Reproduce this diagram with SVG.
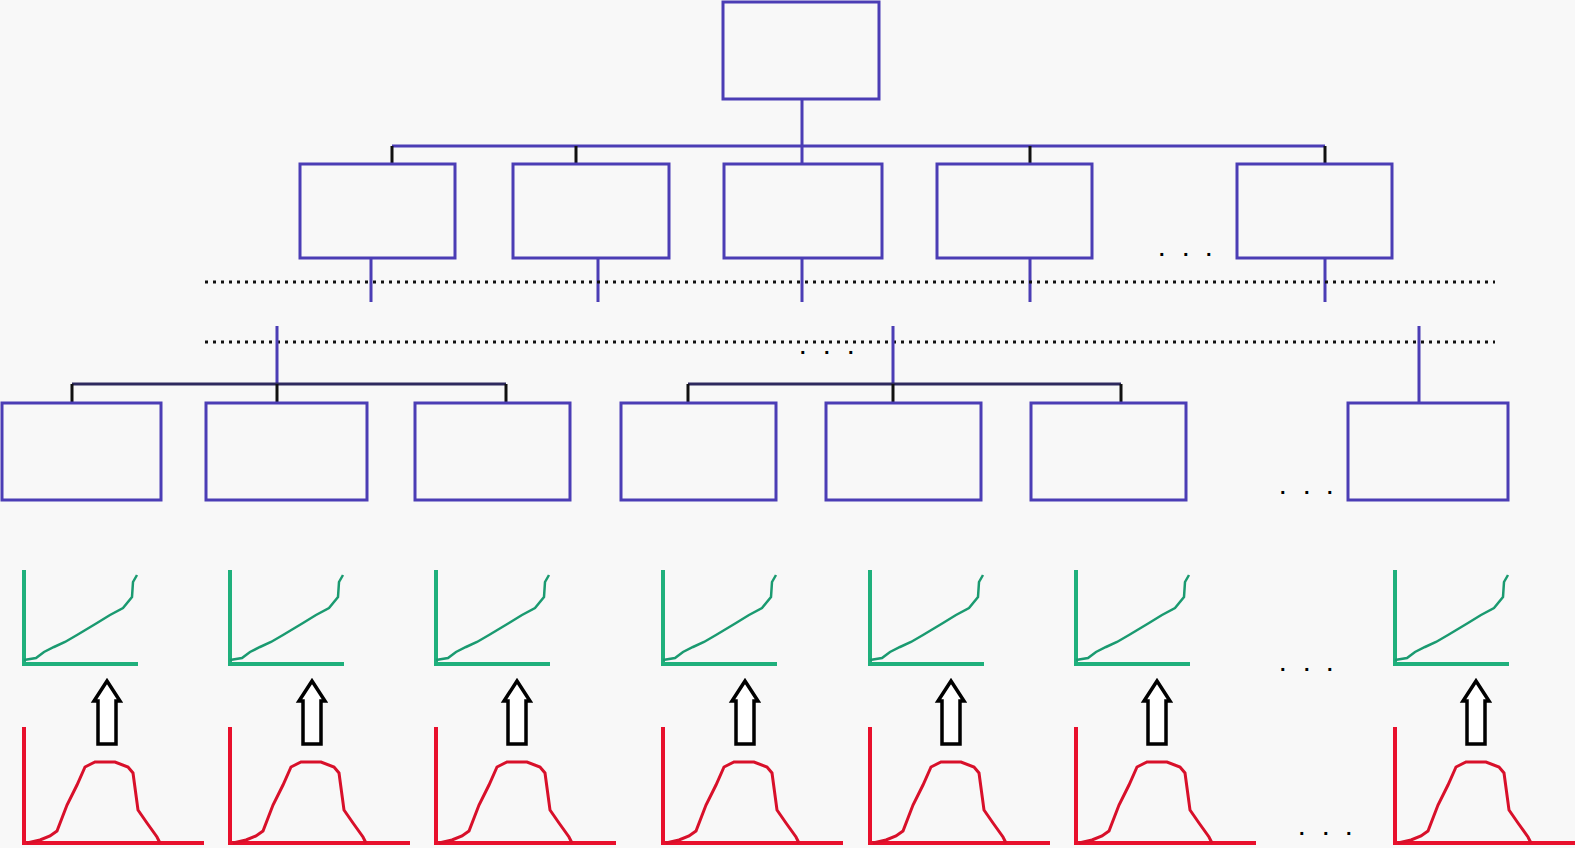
<svg xmlns="http://www.w3.org/2000/svg" width="1575" height="848" viewBox="0 0 1575 848">
<style>
.box{fill:none;stroke:#4b3db5;stroke-width:3}
.blue{stroke:#4b3db5;stroke-width:3;fill:none}
.blk{stroke:#111;stroke-width:3;fill:none}
.bus3{stroke:#2e2a5e;stroke-width:3;fill:none}
.dot{stroke:#111;stroke-width:3;stroke-dasharray:3 5;fill:none}
.gax{stroke:#1fb07c;stroke-width:4;fill:none}
.gcv{stroke:#1a9a70;stroke-width:2.5;fill:none}
.rax{stroke:#e8102c;stroke-width:4;fill:none}
.rcv{stroke:#d8102a;stroke-width:3;fill:none}
.arr{fill:#fff;stroke:#000;stroke-width:3.5;stroke-linejoin:miter}
.el{font-family:"Liberation Sans",Arial,sans-serif;font-size:20px;font-weight:bold;fill:#000}
</style>
<defs>
<g id="gchart">
<path class="gax" d="M0,-94 V0 H114"/>
<polyline class="gcv" points="0,-4 12,-6 20,-12 30,-17 41,-22 53,-29 73,-41 86,-49 99,-56 108,-67 109,-82 113,-89"/>
</g>
<g id="rchart">
<path class="rax" d="M0,-116 V0 H180"/>
<polyline class="rcv" points="3,0 16,-3 26,-7 33,-12 43,-38 53,-58 61,-76 71,-81 91,-81 104,-76 109,-70 114,-33 123,-20 133,-6 136,0"/>
</g>
<polygon id="uparrow" class="arr" points="0,0 13,20 9,20 9,63 -9,63 -9,20 -13,20"/>
</defs>
<rect width="1575" height="848" fill="#f8f8f8"/>

<g id="connectors">
<line class="blue" x1="802" y1="99" x2="802" y2="146"/>
<line class="blue" x1="392" y1="146" x2="1325" y2="146"/>
<line class="blk" x1="392" y1="146" x2="392" y2="164"/>
<line class="blk" x1="576" y1="146" x2="576" y2="164"/>
<line class="blue" x1="802" y1="146" x2="802" y2="164"/>
<line class="blk" x1="1030" y1="146" x2="1030" y2="164"/>
<line class="blk" x1="1325" y1="146" x2="1325" y2="164"/>
<line class="blue" x1="371" y1="258" x2="371" y2="302"/>
<line class="blue" x1="598" y1="258" x2="598" y2="302"/>
<line class="blue" x1="802" y1="258" x2="802" y2="302"/>
<line class="blue" x1="1030" y1="258" x2="1030" y2="302"/>
<line class="blue" x1="1325" y1="258" x2="1325" y2="302"/>
<line class="dot" x1="205" y1="282" x2="1495" y2="282"/>
<line class="dot" x1="205" y1="342" x2="1495" y2="342"/>
<line class="blue" x1="277" y1="326" x2="277" y2="384"/>
<line class="blue" x1="893" y1="326" x2="893" y2="384"/>
<line class="blue" x1="1419" y1="326" x2="1419" y2="403"/>
<line class="bus3" x1="72" y1="384" x2="506" y2="384"/>
<line class="blk" x1="72" y1="384" x2="72" y2="403"/>
<line class="blk" x1="277" y1="384" x2="277" y2="403"/>
<line class="blk" x1="506" y1="384" x2="506" y2="403"/>
<line class="bus3" x1="688" y1="384" x2="1121" y2="384"/>
<line class="blk" x1="688" y1="384" x2="688" y2="403"/>
<line class="blk" x1="893" y1="384" x2="893" y2="403"/>
<line class="blk" x1="1121" y1="384" x2="1121" y2="403"/>
</g>

<g id="root"><rect class="box" x="723" y="2" width="156" height="97"/></g>
<g id="n2a"><rect class="box" x="300" y="164" width="155" height="94"/></g>
<g id="n2b"><rect class="box" x="513" y="164" width="156" height="94"/></g>
<g id="n2c"><rect class="box" x="724" y="164" width="158" height="94"/></g>
<g id="n2d"><rect class="box" x="937" y="164" width="155" height="94"/></g>
<g id="n2e"><rect class="box" x="1237" y="164" width="155" height="94"/></g>

<g id="n3a"><rect class="box" x="2" y="403" width="159" height="97"/></g>
<g id="n3b"><rect class="box" x="206" y="403" width="161" height="97"/></g>
<g id="n3c"><rect class="box" x="415" y="403" width="155" height="97"/></g>
<g id="n3d"><rect class="box" x="621" y="403" width="155" height="97"/></g>
<g id="n3e"><rect class="box" x="826" y="403" width="155" height="97"/></g>
<g id="n3f"><rect class="box" x="1031" y="403" width="155" height="97"/></g>
<g id="n3g"><rect class="box" x="1348" y="403" width="160" height="97"/></g>

<g id="ellipses">
<text class="el" x="1159 1183 1206" y="256">...</text>
<text class="el" x="800 824 848" y="354">...</text>
<text class="el" x="1280 1304 1327" y="494">...</text>
<text class="el" x="1280 1304 1327" y="671">...</text>
<text class="el" x="1299 1323 1346" y="835">...</text>
</g>

<g id="charts">
<use href="#gchart" x="24" y="664"/>
<use href="#gchart" x="230" y="664"/>
<use href="#gchart" x="436" y="664"/>
<use href="#gchart" x="663" y="664"/>
<use href="#gchart" x="870" y="664"/>
<use href="#gchart" x="1076" y="664"/>
<use href="#gchart" x="1395" y="664"/>
<use href="#uparrow" x="107" y="681"/>
<use href="#uparrow" x="312" y="681"/>
<use href="#uparrow" x="517" y="681"/>
<use href="#uparrow" x="745" y="681"/>
<use href="#uparrow" x="951" y="681"/>
<use href="#uparrow" x="1157" y="681"/>
<use href="#uparrow" x="1476" y="681"/>
<use href="#rchart" x="24" y="843"/>
<use href="#rchart" x="230" y="843"/>
<use href="#rchart" x="436" y="843"/>
<use href="#rchart" x="663" y="843"/>
<use href="#rchart" x="870" y="843"/>
<use href="#rchart" x="1076" y="843"/>
<use href="#rchart" x="1395" y="843"/>
</g>
</svg>
